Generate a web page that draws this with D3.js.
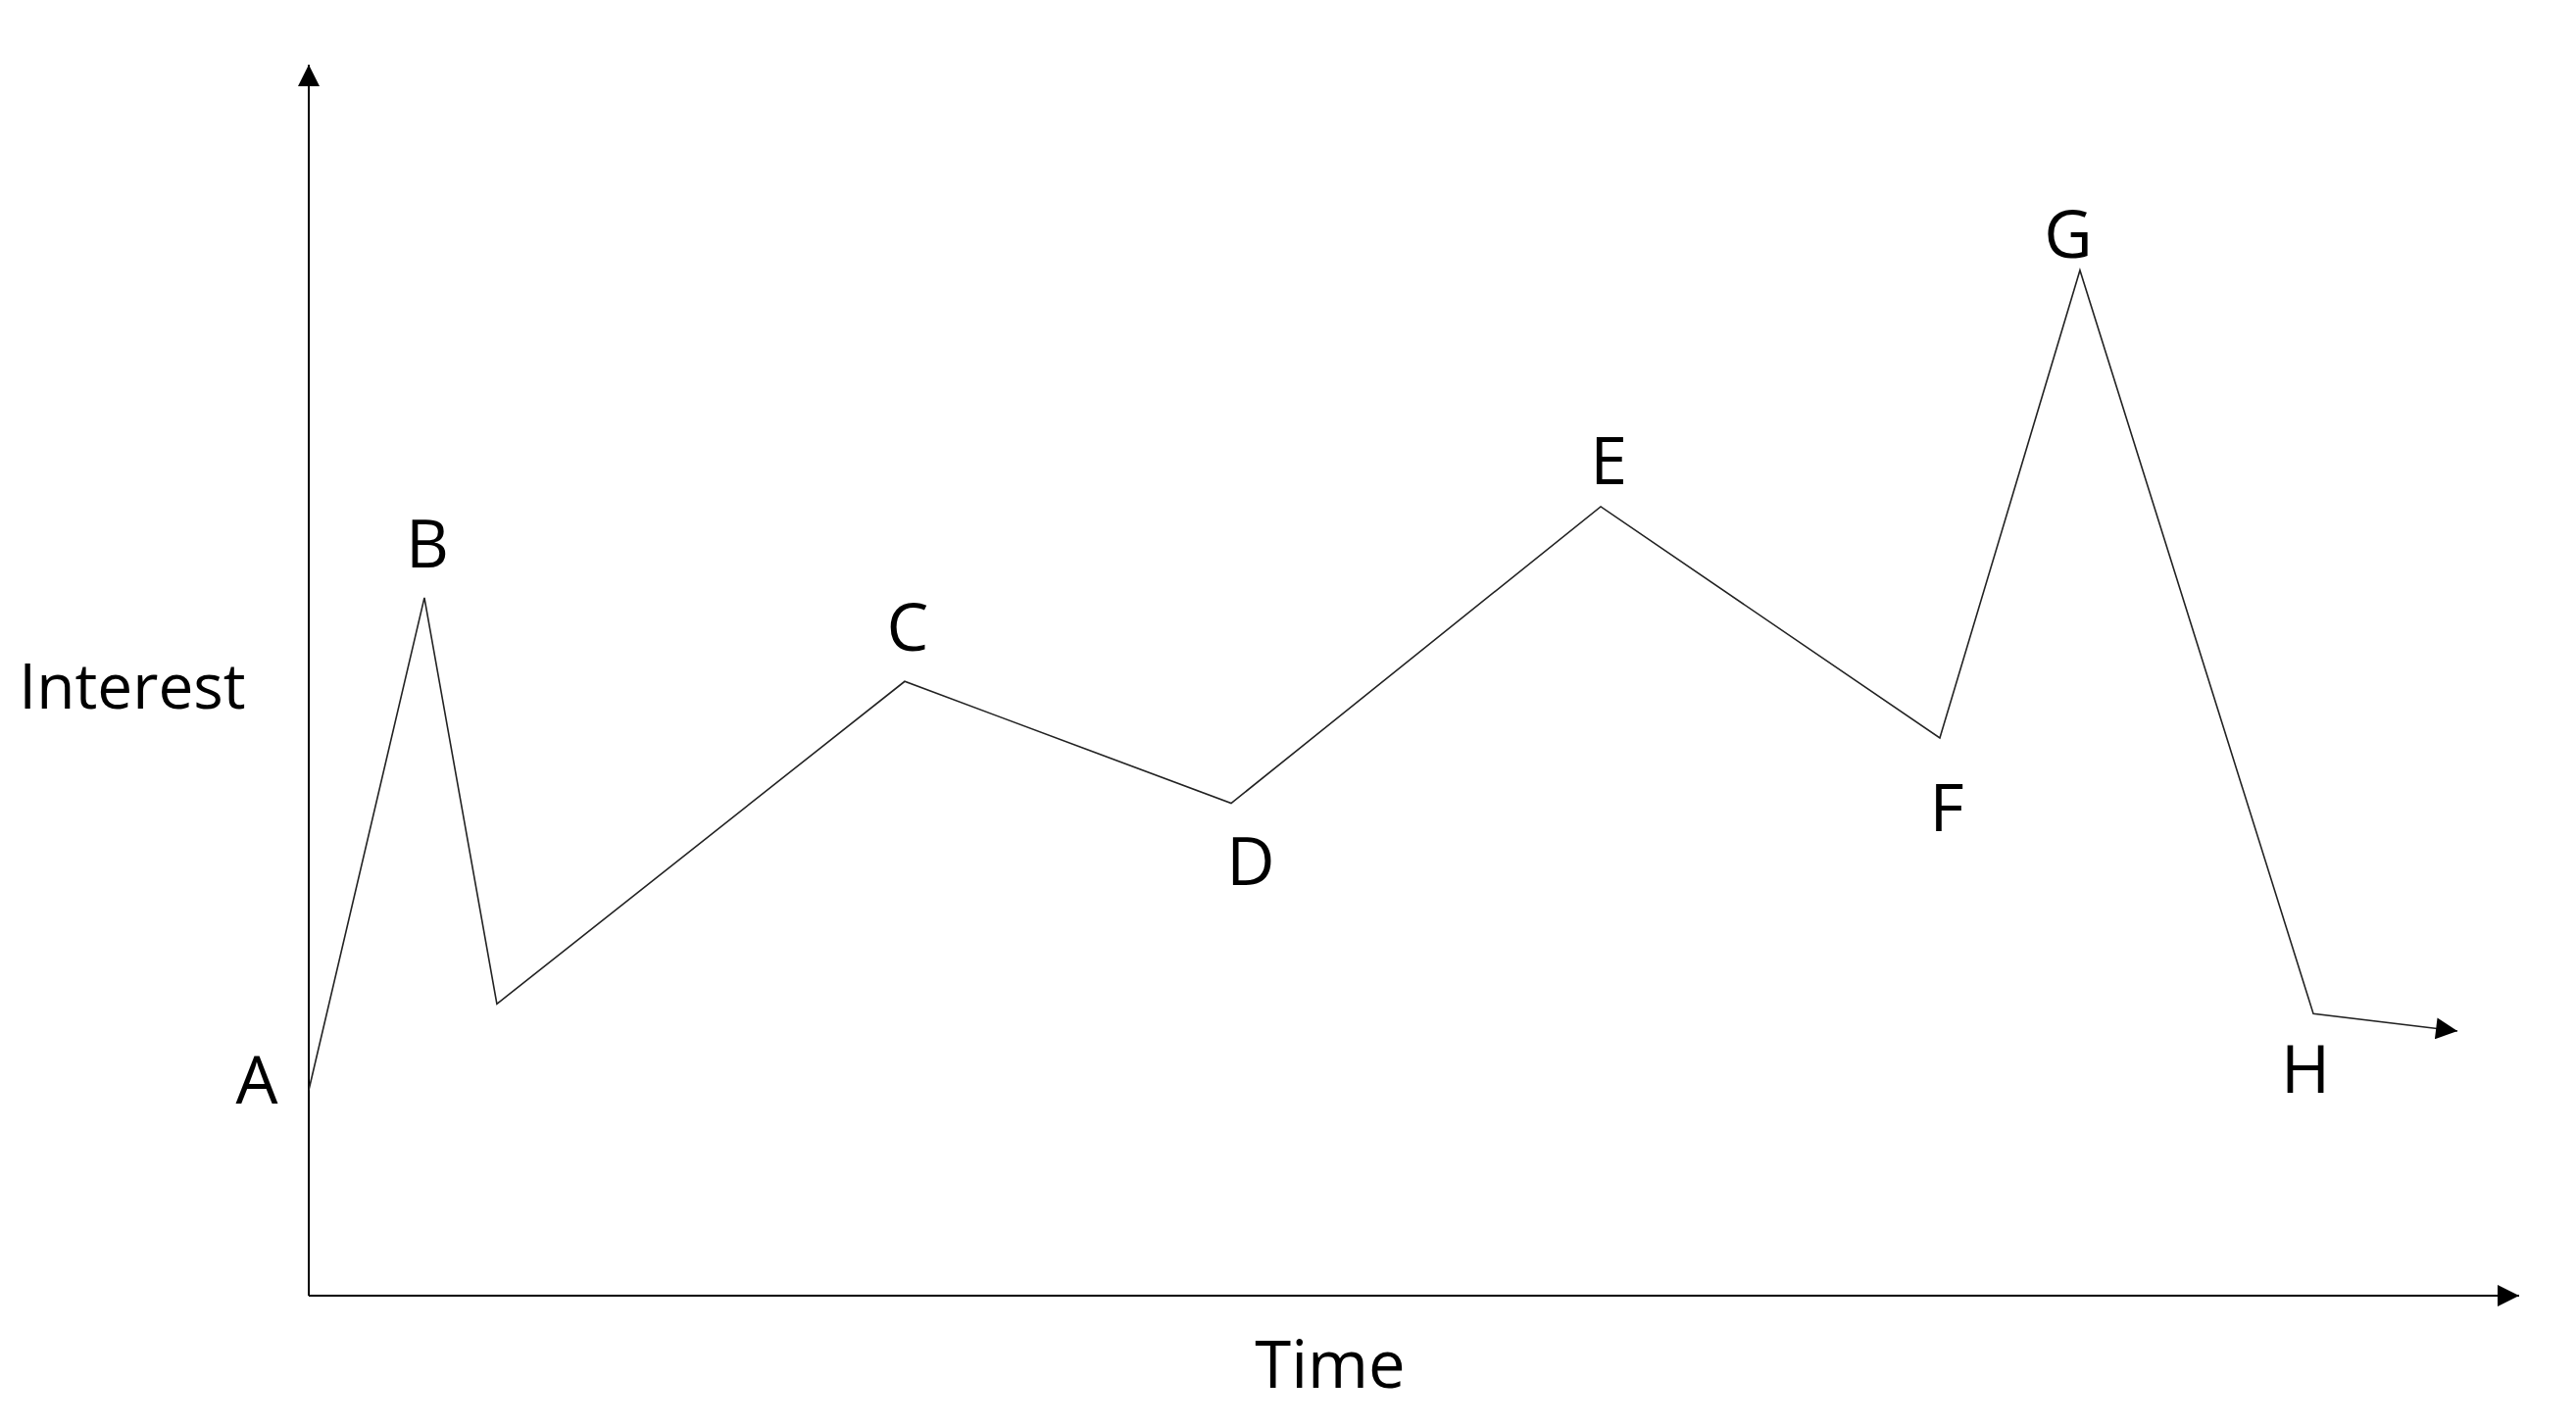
<!DOCTYPE html>
<html>
<head>
<meta charset="utf-8">
<script src="https://cdn.jsdelivr.net/npm/d3@7"></script>
<style>
  html, body { margin: 0; padding: 0; background: #fff; }
  svg { display: block; }
  text { font-family: "Open Sans", "Noto Sans", sans-serif; fill: #000; }
</style>
</head>
<body>
<svg id="chart" width="2628" height="1456"></svg>
<script>
// ---- data ----
const pointLabels = ["A", "B", "", "C", "D", "E", "F", "G", "H", ""];
const timeValues = [0, 52.3, 85.1, 269.6, 417.3, 584.5, 737.9, 801.3, 906.9, 972.1];
const interestValues = [16.7, 56.7, 23.7, 49.9, 40.0, 64.1, 45.3, 83.3, 22.9, 21.5];
const axisTitles = ["Time", "Interest"];

// ---- layout ----
const W = 2628, H = 1456;
const x = d3.scaleLinear().domain([0, 1000]).range([315, 2570]);
const y = d3.scaleLinear().domain([0, 100]).range([1322, 66]);

const svg = d3.select("#chart");

const defs = svg.append("defs");
function marker(id, color) {
  defs.append("marker")
    .attr("id", id)
    .attr("viewBox", "0 0 10 10")
    .attr("refX", 10).attr("refY", 5)
    .attr("markerUnits", "userSpaceOnUse")
    .attr("markerWidth", 23).attr("markerHeight", 22)
    .attr("orient", "auto")
    .append("path")
    .attr("d", "M0,0 L10,5 L0,10 Z")
    .attr("fill", color);
}
marker("axisArrow", "#000");
marker("lineArrow", "#000");

// axes
svg.append("line")
  .attr("x1", x(0)).attr("y1", y(0))
  .attr("x2", x(1000)).attr("y2", y(0))
  .attr("stroke", "#000").attr("stroke-width", 2)
  .attr("marker-end", "url(#axisArrow)");
svg.append("line")
  .attr("x1", x(0)).attr("y1", y(0))
  .attr("x2", x(0)).attr("y2", y(100))
  .attr("stroke", "#000").attr("stroke-width", 2)
  .attr("marker-end", "url(#axisArrow)");

// data line
const pts = timeValues.map((t, i) => ({ t, v: interestValues[i], label: pointLabels[i] }));
const line = d3.line().x(d => x(d.t)).y(d => y(d.v));
svg.append("path")
  .datum(pts)
  .attr("d", line)
  .attr("fill", "none")
  .attr("stroke", "#222")
  .attr("stroke-width", 1.6)
  .attr("stroke-linejoin", "miter")
  .attr("marker-end", "url(#lineArrow)");

// point labels (offsets in pixels from each point)
const labelOffsets = {
  A: [-53, 14], B: [3, -31], C: [3, -31], D: [20, 83],
  E: [8, -23], F: [7, 95], G: [-12, -13], H: [-8, 81]
};
const fontSize = 68;
svg.selectAll("text.pt")
  .data(pts.filter(d => d.label))
  .join("text")
  .attr("class", "pt")
  .attr("x", d => x(d.t) + labelOffsets[d.label][0])
  .attr("y", d => y(d.v) + labelOffsets[d.label][1])
  .attr("text-anchor", "middle")
  .attr("font-size", fontSize)
  .text(d => d.label);

// axis titles
svg.append("text")
  .attr("x", 1357).attr("y", 1416)
  .attr("text-anchor", "middle")
  .attr("font-size", 67)
  .text(axisTitles[0]);
svg.append("text")
  .attr("x", 135).attr("y", 723)
  .attr("text-anchor", "middle")
  .attr("font-size", 64)
  .text(axisTitles[1]);
</script>
</body>
</html>
